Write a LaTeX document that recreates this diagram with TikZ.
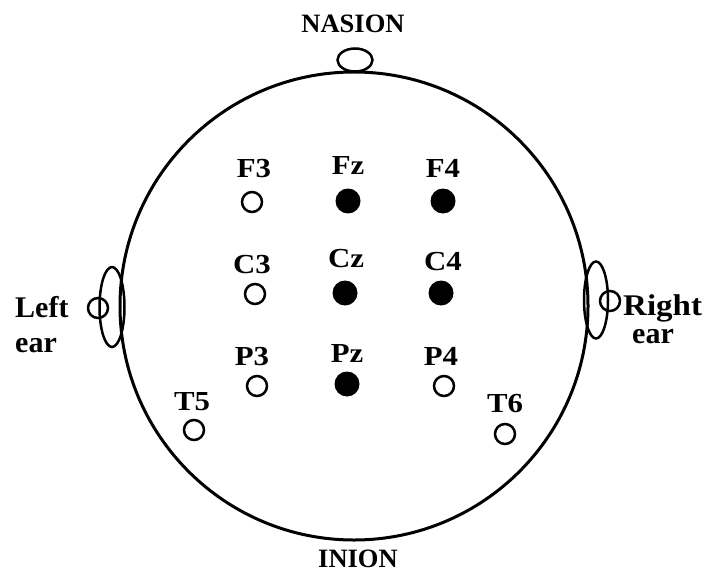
\documentclass[tikz,border=0pt]{standalone}
\usepackage{fontspec}
\setmainfont{Liberation Serif}
\usetikzlibrary{shapes.geometric}
\newcommand\lbl[2][1.12]{\scalebox{#1}[1]{#2}}
\tikzset{
  head/.style={line width=3pt},
  part/.style={line width=2.5pt},
  openel/.style={circle, draw, line width=2.5pt, minimum size=20pt, inner sep=0pt},
  fullel/.style={circle, fill=black, minimum size=25pt, inner sep=0pt},
  elab/.style={anchor=base, inner sep=0pt, font=\fontsize{27.5}{30}\selectfont\bfseries},
  biglab/.style={anchor=base, inner sep=0pt, font=\fontsize{26.5}{30}\selectfont\bfseries},
  earlab/.style={anchor=base west, inner sep=0pt, align=left, font=\fontsize{30}{34}\selectfont\bfseries}
}
\begin{document}
\begin{tikzpicture}[x=1pt,y=-1pt]
\useasboundingbox (0,0) rectangle (711,572);
% nasion
\node[ellipse, draw, part, minimum width=35pt, minimum height=23pt, inner sep=0pt] (nas) at (355,60) {};
% head
\node[circle, draw, head, minimum size=468pt, inner sep=0pt] (headc) at (354,306) {};
% ears
\node[ellipse, draw, part, minimum width=25pt, minimum height=80pt, inner sep=0pt] (lear) at (112,307) {};
\node[circle, draw, part, minimum size=20pt, inner sep=0pt] (learc) at (98,308) {};
\node[ellipse, draw, part, minimum width=24pt, minimum height=77pt, inner sep=0pt] (rear) at (596,300) {};
\node[circle, draw, part, minimum size=20pt, inner sep=0pt] (rearc) at (610,301) {};
% labels
\node[biglab] (nast) at (353,33) {NASION};
\node[biglab] (init) at (358,567) {INION};
\node[earlab, font=\fontsize{30}{35}\selectfont\bfseries] (lt) at (15,352) {Left\\ear};
\node[earlab, font=\fontsize{30}{28}\selectfont\bfseries] (rt) at (623,343) {\lbl[1.1]{Right}\\\hspace*{9pt}ear};
% electrodes
\node[openel] (F3) at (252,202) {};
\node[fullel] (Fz) at (348,201) {};
\node[fullel] (F4) at (443,201) {};
\node[openel] (C3) at (255,294) {};
\node[fullel] (Cz) at (345,293) {};
\node[fullel] (C4) at (441,293) {};
\node[openel] (P3) at (257,386) {};
\node[fullel] (Pz) at (347,384) {};
\node[openel] (P4) at (444,386) {};
\node[openel] (T5) at (194,430) {};
\node[openel] (T6) at (505,434) {};
% electrode labels
\node[elab] (F3t) at (254,178) {\lbl{F3}};
\node[elab] (Fzt) at (348,175) {\lbl{Fz}};
\node[elab] (F4t) at (443,177) {\lbl{F4}};
\node[elab] (C3t) at (252,273) {\lbl{C3}};
\node[elab] (Czt) at (346,267) {\lbl{Cz}};
\node[elab] (C4t) at (443,270) {\lbl{C4}};
\node[elab] (P3t) at (252,365) {\lbl{P3}};
\node[elab] (Pzt) at (347,362) {\lbl{Pz}};
\node[elab] (P4t) at (441,365) {\lbl{P4}};
\node[elab] (T5t) at (192,410) {\lbl{T5}};
\node[elab] (T6t) at (505,412) {\lbl{T6}};
\end{tikzpicture}
\end{document}
